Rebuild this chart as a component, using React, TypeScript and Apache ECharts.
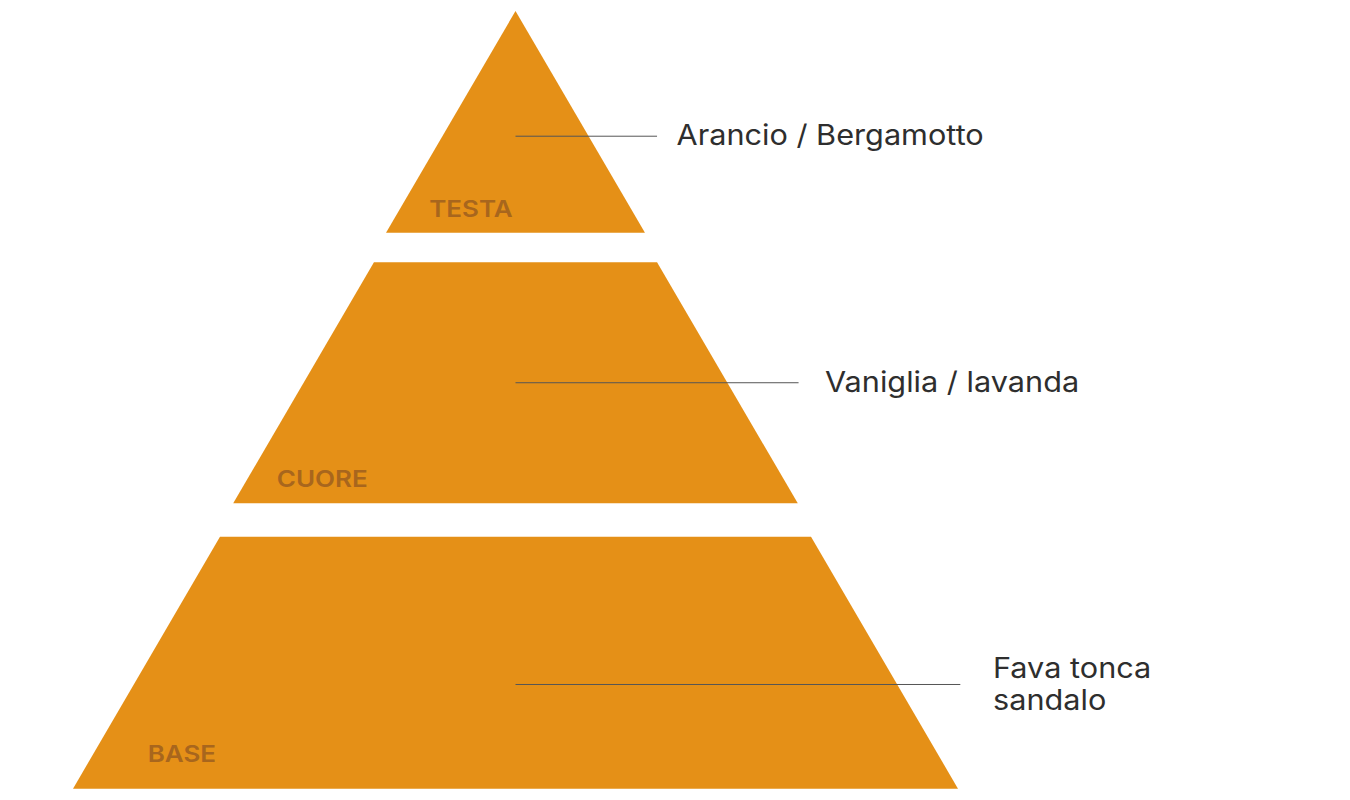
import React, { useEffect, useRef } from "react";
import * as echarts from "echarts";

// Pyramid levels (top to bottom)
const levels = ["TESTA", "CUORE", "BASE"];
const notes = ["Arancio / Bergamotto", "Vaniglia / lavanda", "Fava tonca\nsandalo"];
// depth of each section from the apex, on a 0..100 scale
const sectionStart = [0, 32.3, 67.6];
const sectionEnd = [28.5, 63.3, 100];
// full width of each section at its top and bottom edge (same units)
const topWidth = [0, 36.4, 76.0];
const bottomWidth = [33.3, 72.6, 113.8];
// leader line: depth and horizontal reach from the axis centre
const leaderDepth = [16.1, 47.8, 86.6];
const leaderReach = [18.2, 36.4, 57.2];
// note text start (horizontal, same units)
const noteX = [20.7, 39.8, 61.4];
// inside level names: horizontal start and centre depth
const nameX = [-11.1, -30.7, -47.3];
const nameDepth = [25.4, 60.1, 95.5];

export default function App() {
  const ref = useRef<HTMLDivElement>(null);
  useEffect(() => {
    if (!ref.current) return;
    const chart = echarts.init(ref.current, null, { renderer: "svg" });
    const data = levels.map((name, i) => ({
      name,
      value: [0, sectionStart[i], sectionEnd[i], topWidth[i], bottomWidth[i]],
    }));
    chart.setOption({
      animation: false,
      backgroundColor: "#ffffff",
      grid: { left: 48.9, right: 367.9, top: 11, bottom: 11.3 },
      xAxis: { type: "value", min: -60, max: 60, show: false },
      yAxis: { type: "value", min: 0, max: 100, inverse: true, show: false },
      series: [
        {
          type: "custom",
          data,
          renderItem: (params: any, api: any) => {
            const i = params.dataIndex;
            const s = sectionStart[i];
            const e = sectionEnd[i];
            const tw = topWidth[i] / 2;
            const bw = bottomWidth[i] / 2;
            const p1 = api.coord([-tw, s]);
            const p2 = api.coord([tw, s]);
            const p3 = api.coord([bw, e]);
            const p4 = api.coord([-bw, e]);
            const l0 = api.coord([0, leaderDepth[i]]);
            const l1 = api.coord([leaderReach[i], leaderDepth[i]]);
            const nt = api.coord([noteX[i], leaderDepth[i]]);
            const nm = api.coord([nameX[i], nameDepth[i]]);
            return {
              type: "group",
              children: [
                {
                  type: "polygon",
                  shape: { points: [p1, p2, p3, p4] },
                  style: { fill: "#E59017" },
                },
                {
                  type: "text",
                  x: nm[0],
                  y: nm[1],
                  scaleX: 1.13,
                  style: {
                    text: levels[i],
                    fill: "#A8661D",
                    fontFamily: "Inter",
                    fontWeight: 600,
                    fontSize: 23,
                    align: "left",
                    verticalAlign: "middle",
                  },
                },
                {
                  type: "line",
                  shape: { x1: l0[0], y1: l0[1], x2: l1[0], y2: l1[1] },
                  style: { stroke: "#555555", lineWidth: 1 },
                },
                {
                  type: "text",
                  x: nt[0],
                  y: nt[1] - 1,
                  scaleX: 1.095,
                  style: {
                    text: notes[i],
                    fill: "#2E2E2E",
                    fontFamily: "Inter",
                    fontWeight: 400,
                    fontSize: 28,
                    lineHeight: 32,
                    align: "left",
                    verticalAlign: "middle",
                  },
                },
              ],
            };
          },
        },
      ],
    });
    return () => chart.dispose();
  }, []);
  return (
    <div
      ref={ref}
      style={{ position: "fixed", left: 0, top: 0, width: 1350, height: 800 }}
    />
  );
}
